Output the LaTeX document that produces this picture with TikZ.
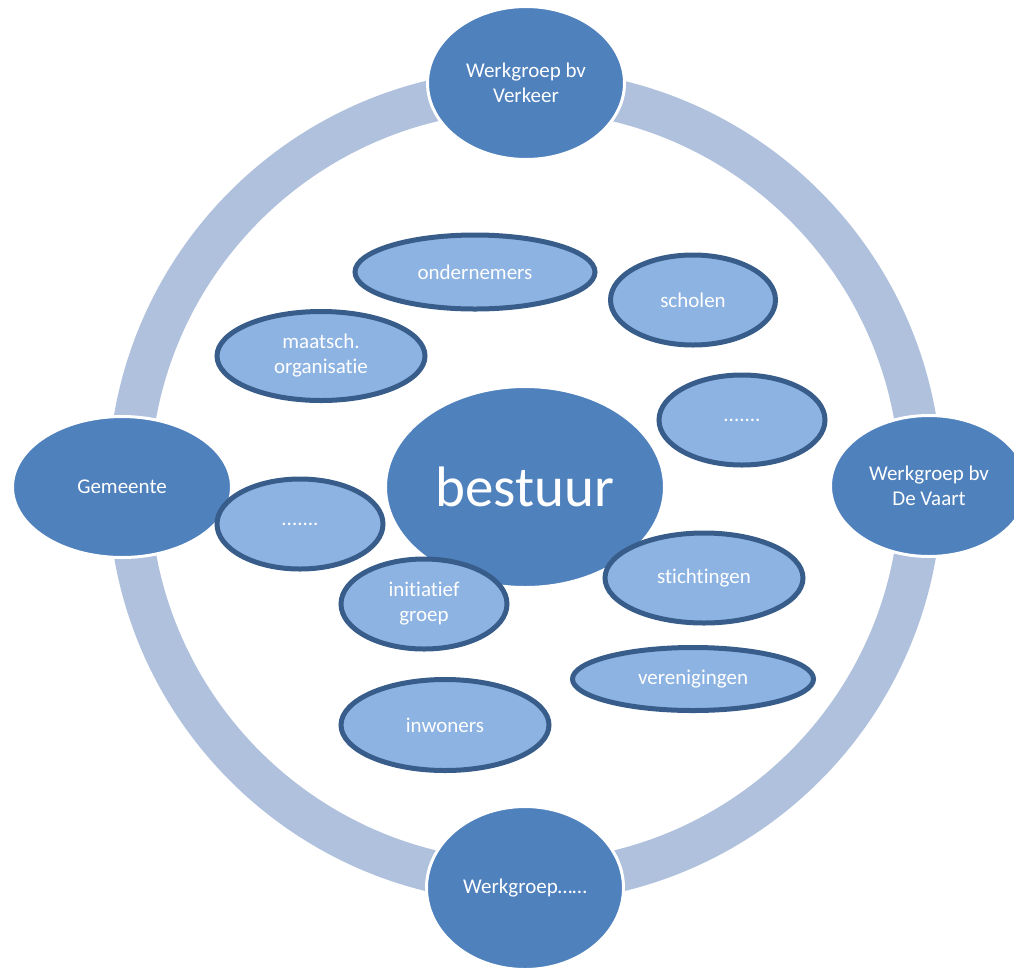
\documentclass[tikz,border=0pt]{standalone}
\usepackage{fontspec}
\setmainfont{Carlito}[RawFeature={-liga;-calt}]
\usepackage{tikz}
\usetikzlibrary{shapes.geometric}
\definecolor{ringblue}{RGB}{176,193,221}
\definecolor{groupblue}{RGB}{79,129,189}
\definecolor{partnerblue}{RGB}{141,179,226}
\definecolor{partnerline}{RGB}{56,93,138}
\newcommand{\etcdots}{.......}
\tikzstyle{vertex}=[ellipse, text=white, align=center
%,font=\small
,inner sep=0pt
,font=\fontsize{21}{25}\selectfont
]
\tikzstyle{group vertex} = [vertex, draw=white, line width=3pt, fill=groupblue]
\tikzstyle{partner vertex} = [vertex, draw=partnerline, line width=5pt, fill=partnerblue]
\tikzstyle{ring} = [draw=ringblue, line width=42pt]

\begin{document}
\begin{tikzpicture}[x=1pt,y=-1pt]
    \path[use as bounding box, clip] (0,0) rectangle (1014,970);
    % The ring behind the work groups
    \coordinate (hub) at (525,486);
    \path[ring] (hub) circle[radius=396];

    % Then the outer groups on the ring
    \foreach \pos/\w/\h/\name/\txt in {{(526,83)/197/153/verkeer/Werkgroep bv\\Verkeer},
        {(929,486)/197/141/vaart/Werkgroep bv\\De Vaart}, {(525,888)/197/163/werkgroep/Werkgroep……},
        {(122,487)/219/141/gemeente/Gemeente}}
        \node[group vertex, minimum width=\w, minimum height=\h] (\name) at \pos {\txt};

    \node[group vertex, minimum width=279, minimum height=201,
        font=\fontsize{57}{60}\selectfont] (bestuur) at (525,487) {bestuur};

    % Partners inside the ring
    \foreach \pos/\w/\h/\name/\txt in {{(475,272)/240/74/ondernemers/ondernemers},
        {(693,300)/165/90/scholen/scholen}, {(321,356)/208/89/maatsch/maatsch.\\organisatie},
        {(742,420)/166/90/dotsright/\etcdots}, {(300,524)/166/90/dotsleft/\etcdots},
        {(424,604)/166/90/initiatief/initiatief\\groep}, {(704,578)/198/90/stichtingen/stichtingen},
        {(693,679)/241/63/verenigingen/verenigingen}, {(445,725)/208/91/inwoners/inwoners}}
        \node[partner vertex, minimum width=\w, minimum height=\h] (\name) at \pos {\txt};

\end{tikzpicture}
\end{document}
